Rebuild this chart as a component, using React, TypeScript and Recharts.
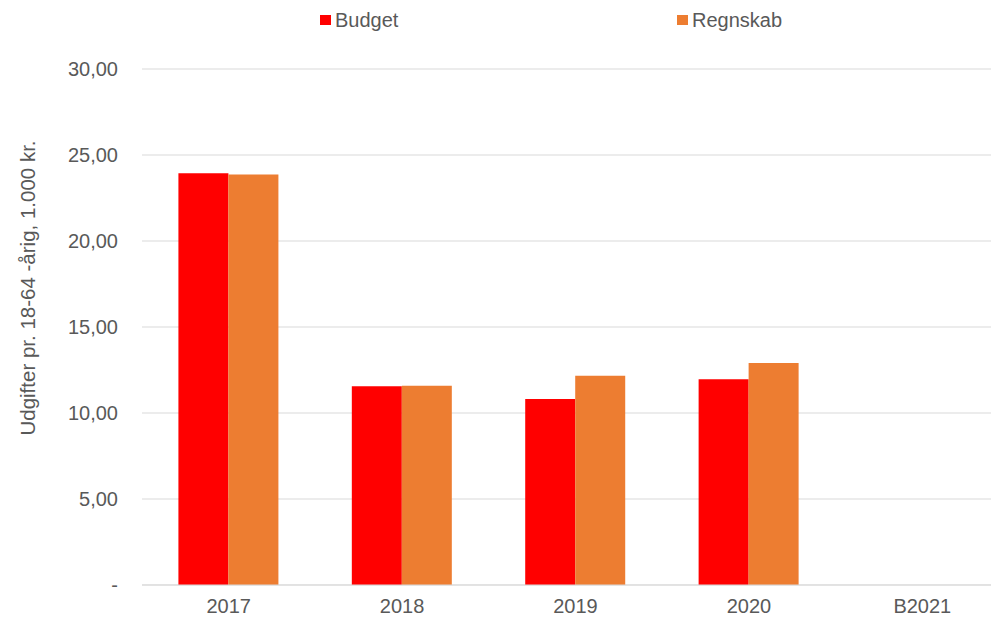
import React from 'react';
import { BarChart, Bar, XAxis, YAxis, CartesianGrid, Legend } from 'recharts';

// Categories and series values
const categories = ['2017', '2018', '2019', '2020', 'B2021'];
const budget: (number | null)[] = [23.94, 11.55, 10.81, 11.96, null];
const regnskab: (number | null)[] = [23.86, 11.58, 12.17, 12.91, null];
const yTicks = [0, 5, 10, 15, 20, 25, 30];

const TEXT = '#595959';
const FONT = '"Liberation Sans", Arial, sans-serif';

const data = categories.map((c, i) => ({ name: c, Budget: budget[i], Regnskab: regnskab[i] }));

const formatY = (v: number) => (v === 0 ? '-' : v.toFixed(2).replace('.', ','));

const legendItems = [
    { label: 'Budget', color: '#FF0000', left: 320 },
    { label: 'Regnskab', color: '#ED7D31', left: 677 },
];

// legend has zero height so it does not push the plot down
const CustomLegend = () => (
    <div style={{ position: 'relative', width: 991, height: 0 }}>
        {legendItems.map((it) => (
            <div
                key={it.label}
                style={{
                    position: 'absolute',
                    left: it.left,
                    top: 9,
                    display: 'flex',
                    alignItems: 'center',
                    fontFamily: FONT,
                    fontSize: 20,
                    color: TEXT,
                    lineHeight: '22px',
                    whiteSpace: 'nowrap',
                }}
            >
                <span style={{ width: 11, height: 10, background: it.color, marginRight: 4, display: 'inline-block' }} />
                {it.label}
            </div>
        ))}
    </div>
);

const YLabel = () => (
    <text
        x={27}
        y={288}
        transform="rotate(-90 27 288)"
        textAnchor="middle"
        dominantBaseline="central"
        fill={TEXT}
        fontSize={20.5}
        fontFamily={FONT}
    >
        Udgifter pr. 18-64 -årig, 1.000 kr.
    </text>
);

export default function App() {
    return (
        <div style={{ position: 'absolute', left: 0, top: 0, width: 991, height: 617, overflow: 'hidden', background: '#fff' }}>
            <BarChart
                width={991}
                height={617}
                data={data}
                margin={{ top: 69, right: -18, bottom: 2, left: 0 }}
                barCategoryGap="21%"
                barGap={0}
            >
                <CartesianGrid vertical={false} stroke="#d9d9d9" />
                <XAxis
                    dataKey="name"
                    height={30}
                    axisLine={{ stroke: '#d9d9d9' }}
                    tickLine={false}
                    tickSize={0}
                    tickMargin={14}
                    tick={{ fill: TEXT, fontSize: 20, fontFamily: FONT }}
                />
                <YAxis
                    width={142}
                    domain={[0, 30]}
                    ticks={yTicks}
                    tickFormatter={formatY}
                    axisLine={false}
                    tickLine={false}
                    tickSize={0}
                    tickMargin={24}
                    tick={{ fill: TEXT, fontSize: 20, fontFamily: FONT }}
                    label={<YLabel />}
                />
                <Legend verticalAlign="top" height={0} wrapperStyle={{ top: 0, left: 0 }} content={<CustomLegend />} />
                <Bar dataKey="Budget" fill="#FF0000" isAnimationActive={false} />
                <Bar dataKey="Regnskab" fill="#ED7D31" isAnimationActive={false} />
            </BarChart>
        </div>
    );
}
